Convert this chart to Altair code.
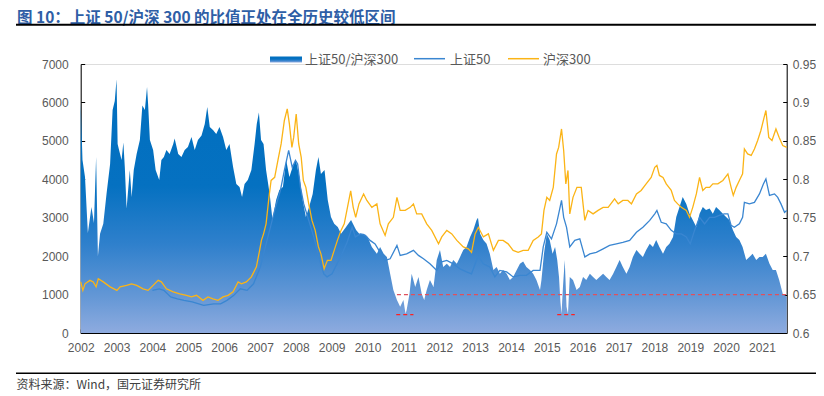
import altair as alt
import pandas as pd

# ---------------- data ----------------
ratio_t = [2002.00, 2002.05, 2002.12, 2002.20, 2002.30, 2002.37, 2002.43, 2002.48, 2002.54, 2002.63,
           2002.72, 2002.82, 2002.89, 2002.95, 2003.00, 2003.03, 2003.07, 2003.14, 2003.19, 2003.23,
           2003.28, 2003.37, 2003.42, 2003.48, 2003.56, 2003.65, 2003.72, 2003.79, 2003.85, 2003.88,
           2003.93, 2004.02, 2004.09, 2004.19, 2004.25, 2004.32, 2004.39, 2004.48, 2004.58, 2004.62,
           2004.72, 2004.81, 2004.90, 2004.99, 2005.09, 2005.18, 2005.27, 2005.37, 2005.46, 2005.53,
           2005.60, 2005.69, 2005.78, 2005.87, 2005.97, 2006.06, 2006.15, 2006.25, 2006.34, 2006.43,
           2006.50, 2006.57, 2006.66, 2006.76, 2006.85, 2006.91, 2006.97, 2007.03, 2007.10, 2007.17,
           2007.27, 2007.35, 2007.45, 2007.54, 2007.64, 2007.73, 2007.82, 2007.91, 2008.00, 2008.10,
           2008.19, 2008.28, 2008.37, 2008.47, 2008.56, 2008.63, 2008.70, 2008.80, 2008.89, 2008.98,
           2009.07, 2009.17, 2009.26, 2009.40, 2009.54, 2009.68, 2009.77, 2009.89, 2010.00, 2010.12,
           2010.26, 2010.35, 2010.45, 2010.54, 2010.63, 2010.72, 2010.82, 2010.91, 2011.00, 2011.06,
           2011.09, 2011.17, 2011.23, 2011.33, 2011.42, 2011.51, 2011.58, 2011.65, 2011.74, 2011.84,
           2011.93, 2012.02, 2012.11, 2012.21, 2012.30, 2012.39, 2012.49, 2012.58, 2012.67, 2012.76,
           2012.86, 2012.95, 2013.04, 2013.08, 2013.14, 2013.23, 2013.32, 2013.41, 2013.51, 2013.60,
           2013.69, 2013.78, 2013.88, 2013.97, 2014.06, 2014.16, 2014.25, 2014.34, 2014.43, 2014.53,
           2014.62, 2014.71, 2014.81, 2014.85, 2014.92, 2015.00, 2015.08, 2015.16, 2015.23, 2015.29,
           2015.34, 2015.38, 2015.41, 2015.45, 2015.50, 2015.55, 2015.59, 2015.64, 2015.73, 2015.83,
           2015.92, 2016.01, 2016.10, 2016.20, 2016.29, 2016.38, 2016.47, 2016.57, 2016.66, 2016.75,
           2016.85, 2016.94, 2017.03, 2017.12, 2017.22, 2017.31, 2017.40, 2017.50, 2017.59, 2017.68,
           2017.77, 2017.87, 2017.96, 2018.05, 2018.14, 2018.24, 2018.33, 2018.42, 2018.52, 2018.61,
           2018.70, 2018.79, 2018.89, 2018.98, 2019.07, 2019.17, 2019.26, 2019.35, 2019.44, 2019.54,
           2019.63, 2019.72, 2019.81, 2019.91, 2020.00, 2020.09, 2020.19, 2020.28, 2020.37, 2020.46,
           2020.56, 2020.65, 2020.74, 2020.84, 2020.93, 2021.02, 2021.11, 2021.21, 2021.30, 2021.39,
           2021.48, 2021.58, 2021.69]
ratio_v = [0.900, 0.825, 0.803, 0.730, 0.764, 0.743, 0.829, 0.700, 0.729, 0.742,
           0.781, 0.820, 0.890, 0.902, 0.930, 0.846, 0.838, 0.825, 0.848, 0.816,
           0.762, 0.812, 0.777, 0.812, 0.833, 0.851, 0.896, 0.890, 0.920, 0.898,
           0.851, 0.838, 0.812, 0.799, 0.825, 0.829, 0.838, 0.833, 0.846, 0.853,
           0.833, 0.829, 0.838, 0.842, 0.855, 0.838, 0.851, 0.857, 0.872, 0.894,
           0.868, 0.864, 0.859, 0.868, 0.855, 0.838, 0.846, 0.816, 0.794, 0.790,
           0.777, 0.794, 0.799, 0.812, 0.846, 0.872, 0.887, 0.851, 0.846, 0.812,
           0.781, 0.747, 0.773, 0.786, 0.790, 0.825, 0.803, 0.816, 0.825, 0.803,
           0.773, 0.751, 0.764, 0.781, 0.812, 0.829, 0.807, 0.812, 0.773, 0.751,
           0.742, 0.738, 0.729, 0.738, 0.747, 0.734, 0.729, 0.729, 0.725, 0.712,
           0.703, 0.712, 0.703, 0.699, 0.677, 0.656, 0.643, 0.634, 0.643, 0.625,
           0.630, 0.651, 0.677, 0.660, 0.673, 0.651, 0.643, 0.656, 0.669, 0.660,
           0.695, 0.708, 0.686, 0.690, 0.686, 0.695, 0.690, 0.699, 0.708, 0.712,
           0.725, 0.734, 0.747, 0.750, 0.729, 0.721, 0.716, 0.703, 0.682, 0.686,
           0.677, 0.682, 0.677, 0.669, 0.673, 0.682, 0.690, 0.693, 0.686, 0.682,
           0.677, 0.669, 0.656, 0.669, 0.703, 0.729, 0.721, 0.703, 0.712, 0.695,
           0.673, 0.640, 0.625, 0.660, 0.695, 0.634, 0.625, 0.673, 0.669, 0.656,
           0.660, 0.673, 0.669, 0.677, 0.673, 0.669, 0.673, 0.677, 0.673, 0.669,
           0.677, 0.686, 0.695, 0.686, 0.677, 0.686, 0.699, 0.708, 0.703, 0.699,
           0.708, 0.716, 0.712, 0.721, 0.712, 0.703, 0.712, 0.716, 0.725, 0.751,
           0.764, 0.777, 0.768, 0.755, 0.747, 0.738, 0.755, 0.764, 0.760, 0.762,
           0.755, 0.764, 0.760, 0.755, 0.751, 0.747, 0.734, 0.725, 0.721, 0.712,
           0.695, 0.699, 0.703, 0.695, 0.699, 0.699, 0.703, 0.690, 0.682, 0.682,
           0.669, 0.651, 0.647]

sh50_t = [2004.00, 2004.19, 2004.32, 2004.51, 2004.70, 2004.88, 2005.11, 2005.43, 2005.71, 2005.90,
          2006.08, 2006.27, 2006.45, 2006.64, 2006.82, 2007.01, 2007.15, 2007.29, 2007.43, 2007.57,
          2007.68, 2007.80, 2007.90, 2007.99, 2008.05, 2008.13, 2008.22, 2008.36, 2008.50, 2008.64,
          2008.78, 2008.87, 2009.01, 2009.15, 2009.29, 2009.43, 2009.57, 2009.66, 2009.80, 2009.94,
          2010.07, 2010.21, 2010.35, 2010.49, 2010.63, 2010.82, 2010.91, 2011.09, 2011.28, 2011.42,
          2011.56, 2011.74, 2011.93, 2012.07, 2012.21, 2012.39, 2012.58, 2012.76, 2012.90, 2013.04,
          2013.10, 2013.23, 2013.41, 2013.55, 2013.69, 2013.88, 2014.06, 2014.25, 2014.43, 2014.62,
          2014.81, 2014.90, 2015.00, 2015.13, 2015.27, 2015.36, 2015.41, 2015.47, 2015.55, 2015.64,
          2015.78, 2015.92, 2016.06, 2016.20, 2016.38, 2016.57, 2016.75, 2016.94, 2017.12, 2017.31,
          2017.50, 2017.68, 2017.87, 2018.01, 2018.07, 2018.19, 2018.33, 2018.47, 2018.61, 2018.75,
          2018.89, 2019.00, 2019.12, 2019.26, 2019.40, 2019.54, 2019.68, 2019.81, 2019.95, 2020.05,
          2020.14, 2020.23, 2020.37, 2020.46, 2020.51, 2020.65, 2020.79, 2020.93, 2021.04, 2021.11,
          2021.21, 2021.35, 2021.44, 2021.53, 2021.63, 2021.69]
sh50_v = [1110, 1150, 1110, 940, 890, 850, 810, 720, 760, 760,
          850, 980, 1150, 1110, 1280, 1720, 2240, 2750, 3270, 3710,
          4230, 4750, 4310, 4490, 4400, 3790, 3360, 2930, 2500, 1980,
          1540, 1460, 1540, 1800, 2060, 2360, 2750, 2500, 2580, 2540,
          2410, 2320, 2100, 1890, 1930, 2280, 2020, 2060, 2150, 2020,
          1930, 1800, 1630, 1850, 1890, 1800, 1670, 1590, 1540, 1900,
          1980, 1800, 1720, 1460, 1630, 1590, 1460, 1500, 1500, 1630,
          1630, 2240, 2620, 2450, 2840, 3230, 3450, 3010, 2750, 2240,
          2410, 2450, 1980, 2060, 2100, 2190, 2280, 2320, 2360, 2410,
          2620, 2750, 2930, 3100, 3190, 2880, 2840, 2670, 2580, 2580,
          2500, 2320, 2670, 3010, 2840, 3010, 3010, 3060, 3100, 3100,
          2800, 2750, 2840, 3010, 3400, 3360, 3400, 3620, 3880, 4010,
          3580, 3620, 3530, 3360, 3140, 3190]

hs300_t = [2002.00, 2002.06, 2002.12, 2002.26, 2002.35, 2002.43, 2002.49, 2002.63, 2002.82, 2003.01,
           2003.10, 2003.28, 2003.42, 2003.56, 2003.74, 2003.88, 2004.02, 2004.16, 2004.25, 2004.39,
           2004.58, 2004.76, 2004.95, 2005.09, 2005.23, 2005.41, 2005.55, 2005.69, 2005.83, 2005.97,
           2006.11, 2006.25, 2006.39, 2006.48, 2006.62, 2006.76, 2006.90, 2006.99, 2007.04, 2007.10,
           2007.17, 2007.25, 2007.31, 2007.41, 2007.50, 2007.59, 2007.68, 2007.76, 2007.82, 2007.89,
           2007.94, 2008.01, 2008.08, 2008.15, 2008.21, 2008.28, 2008.36, 2008.45, 2008.54, 2008.63,
           2008.70, 2008.79, 2008.88, 2008.98, 2009.07, 2009.16, 2009.26, 2009.35, 2009.44, 2009.53,
           2009.60, 2009.67, 2009.76, 2009.89, 2009.98, 2010.12, 2010.26, 2010.35, 2010.49, 2010.58,
           2010.72, 2010.82, 2010.91, 2011.05, 2011.19, 2011.28, 2011.37, 2011.51, 2011.65, 2011.79,
           2011.98, 2012.07, 2012.21, 2012.35, 2012.49, 2012.67, 2012.81, 2012.90, 2013.00, 2013.09,
           2013.23, 2013.37, 2013.51, 2013.65, 2013.78, 2013.92, 2014.06, 2014.20, 2014.34, 2014.48,
           2014.62, 2014.76, 2014.85, 2014.92, 2015.00, 2015.08, 2015.18, 2015.27, 2015.33, 2015.41,
           2015.47, 2015.53, 2015.59, 2015.64, 2015.73, 2015.84, 2015.96, 2016.06, 2016.15, 2016.29,
           2016.43, 2016.57, 2016.71, 2016.89, 2016.99, 2017.12, 2017.26, 2017.36, 2017.50, 2017.63,
           2017.77, 2017.91, 2018.01, 2018.07, 2018.14, 2018.24, 2018.33, 2018.47, 2018.56, 2018.65,
           2018.75, 2018.89, 2018.98, 2019.07, 2019.17, 2019.26, 2019.35, 2019.44, 2019.54, 2019.63,
           2019.77, 2019.91, 2020.05, 2020.14, 2020.20, 2020.28, 2020.37, 2020.46, 2020.51, 2020.60,
           2020.70, 2020.79, 2020.88, 2020.97, 2021.06, 2021.11, 2021.19, 2021.28, 2021.39, 2021.48,
           2021.58, 2021.69]
hs300_v = [1330, 1110, 1280, 1370, 1330, 1200, 1410, 1330, 1200, 1110,
           1200, 1240, 1280, 1240, 1150, 1110, 1240, 1370, 1330, 1150,
           1070, 1020, 980, 940, 980, 850, 940, 890, 850, 940,
           980, 1070, 1330, 1280, 1330, 1460, 1720, 2150, 2410, 2580,
           2840, 3530, 3970, 4050, 4490, 4920, 5530, 5830, 5440, 4830,
           5090, 5700, 4920, 4570, 3970, 3790, 3360, 2930, 2670, 2240,
           2060, 1670, 1890, 1890, 2150, 2410, 2670, 2840, 3270, 3700,
           3270, 3010, 3360, 3620, 3450, 3270, 3360, 2840, 2540, 2840,
           3010, 3530, 3190, 3190, 3270, 3360, 3100, 3100, 2840, 2670,
           2320, 2500, 2670, 2580, 2410, 2240, 2190, 2100, 2580, 2750,
           2500, 2580, 2150, 2410, 2410, 2320, 2150, 2100, 2150, 2150,
           2410, 2500, 2580, 3190, 3530, 3450, 3790, 4660, 4830, 5310,
           4750, 3880, 4230, 3100, 3530, 3790, 3790, 2930, 3190, 3100,
           3190, 3270, 3270, 3490, 3360, 3450, 3450, 3360, 3620, 3710,
           3880, 4050, 4310, 4360, 4100, 4050, 3880, 3710, 3450, 3360,
           3270, 3190, 3010, 3270, 3620, 4050, 3710, 3790, 3790, 3880,
           3880, 3970, 4140, 3790, 3580, 3790, 3970, 4140, 4790, 4660,
           4620, 4790, 5010, 5270, 5610, 5790, 5090, 5010, 5310, 5090,
           4880, 4830]

# red dashed reference lines (ratio units)
ref_y = [0.65, 0.624, 0.624]
ref_x0 = [2010.82, 2010.80, 2015.29]
ref_x1 = [2021.69, 2011.28, 2015.78]
ref_color = ["#e0505c", "#ff2020", "#ff2020"]

years = list(range(2002, 2022))
left_ticks = [0, 1000, 2000, 3000, 4000, 5000, 6000, 7000]
right_ticks = [0.6, 0.65, 0.7, 0.75, 0.8, 0.85, 0.9, 0.95]
series_names = ["上证50/沪深300", "上证50", "沪深300"]
series_colors = ["#0070c0", "#3a86d1", "#fbb416"]
title_text = "图 10：上证 50/沪深 300 的比值正处在全历史较低区间"
source_text = "资料来源：Wind，国元证券研究所"

# ---------------- chart ----------------
W, H = 706, 269
X_DOMAIN = [2002, 2021.69]
LABEL_FONT = "Liberation Sans"
CJK_FONT = "Noto Sans CJK SC"
GRAY = "#595959"

area_gradient = alt.Gradient(
    gradient="linear", x1=0, y1=0, x2=0, y2=1,
    stops=[
        alt.GradientStop(color="#006fbf", offset=0),
        alt.GradientStop(color="#0571c1", offset=0.42),
        alt.GradientStop(color="#2f80cc", offset=0.65),
        alt.GradientStop(color="#6598d6", offset=0.86),
        alt.GradientStop(color="#8eabdf", offset=1),
    ],
)


def make_axis(orient, values, fmt, pad):
    return alt.Axis(orient=orient, values=values, format=fmt, title=None, grid=False,
                    domainColor="black", domainWidth=1, tickColor="black", tickWidth=1,
                    tickSize={"expr": "-4"}, labelPadding=pad, labelFontSize=12,
                    labelFont=LABEL_FONT, labelColor=GRAY, labelFlush=False,
                    labelOverlap=False)


xscale = alt.Scale(domain=X_DOMAIN, nice=False, zero=False)
xaxis = make_axis("bottom", years, "d", 13)
raxis = make_axis("right", right_ticks, "~g", 9.5)
laxis = make_axis("left", left_ticks, "d", 16.5)

ratio_df = pd.DataFrame({"t": ratio_t, "ratio": ratio_v})
sh50_df = pd.DataFrame({"t": sh50_t, "v": sh50_v})
hs300_df = pd.DataFrame({"t": hs300_t, "v": hs300_v})
ref_df = pd.DataFrame({"y": ref_y, "x0": ref_x0, "x1": ref_x1, "c": ref_color})

rscale = alt.Scale(domain=[0.6, 0.95], nice=False, zero=False)
lscale = alt.Scale(domain=[0, 7000], nice=False)

area = alt.Chart(ratio_df).mark_area(fill=area_gradient, interpolate="linear").encode(
    x=alt.X("t:Q", scale=xscale, axis=xaxis),
    y=alt.Y("ratio:Q", scale=rscale, axis=raxis),
    y2=alt.datum(0.6),
)

refs = alt.Chart(ref_df).mark_rule(strokeDash=[4, 3], strokeWidth=1.3).encode(
    x=alt.X("x0:Q", scale=xscale, axis=xaxis),
    x2="x1:Q",
    y=alt.Y("y:Q", scale=rscale, axis=raxis),
    color=alt.Color("c:N", scale=None, legend=None),
)

line50 = alt.Chart(sh50_df).mark_line(color=series_colors[1], strokeWidth=1.3).encode(
    x=alt.X("t:Q", scale=xscale, axis=xaxis),
    y=alt.Y("v:Q", scale=lscale, axis=laxis),
)
line300 = alt.Chart(hs300_df).mark_line(color=series_colors[2], strokeWidth=1.3).encode(
    x=alt.X("t:Q", scale=xscale, axis=xaxis),
    y=alt.Y("v:Q", scale=lscale, axis=laxis),
)

one = pd.DataFrame({"a": [0]})


def txt(s, x, y, size, color, font=CJK_FONT, weight="normal", baseline="middle"):
    return alt.Chart(one).mark_text(align="left", baseline=baseline, fontSize=size, font=font,
                                    color=color, fontWeight=weight, text=s).encode(
        x=alt.value(x), y=alt.value(y))


def hrule(x0, x1, y, color, width):
    return alt.Chart(one).mark_rule(color=color, strokeWidth=width).encode(
        x=alt.value(x0), x2=alt.value(x1), y=alt.value(y))


# page coords -> plot coords: plot origin at page (80.7, 64)
OX, OY = 80.7, 64
decor = [
    txt(title_text, 17 - OX, 22.6 - OY, 15.5, "#2e5ea6", weight="bold", baseline="alphabetic"),
    hrule(16 - OX, 830 - OX, 24.8 - OY, "black", 2),
    hrule(16 - OX, 830 - OX, 373.3 - OY, "black", 1.5),
    txt(source_text, 16.5 - OX, 389 - OY, 12, "#404040", baseline="alphabetic"),
    alt.Chart(one).mark_rect(fill=area_gradient).encode(
        x=alt.value(270 - OX), x2=alt.value(302 - OX), y=alt.value(56.5 - OY), y2=alt.value(62.5 - OY)),
    txt(series_names[0], 305 - OX, 59.5 - OY, 13, GRAY),
    hrule(414 - OX, 445 - OX, 58.7 - OY, series_colors[1], 1.5),
    txt(series_names[1], 450 - OX, 59.5 - OY, 13, GRAY),
    hrule(508 - OX, 539 - OX, 58.7 - OY, series_colors[2], 1.5),
    txt(series_names[2], 543 - OX, 59.5 - OY, 13, GRAY),
]

main = alt.layer(
    alt.layer(area, refs),
    alt.layer(line50, line300),
).resolve_scale(y="independent")

chart = alt.layer(main, *decor).properties(
    width=W, height=H,
    padding={"left": 72.7, "top": 56, "right": 29.3, "bottom": 60},
    autosize=alt.AutoSizeParams(type="none"),
).configure_view(stroke=None).configure(background="white")

chart.save("out.html", embed_options={"renderer": "svg", "actions": False})
